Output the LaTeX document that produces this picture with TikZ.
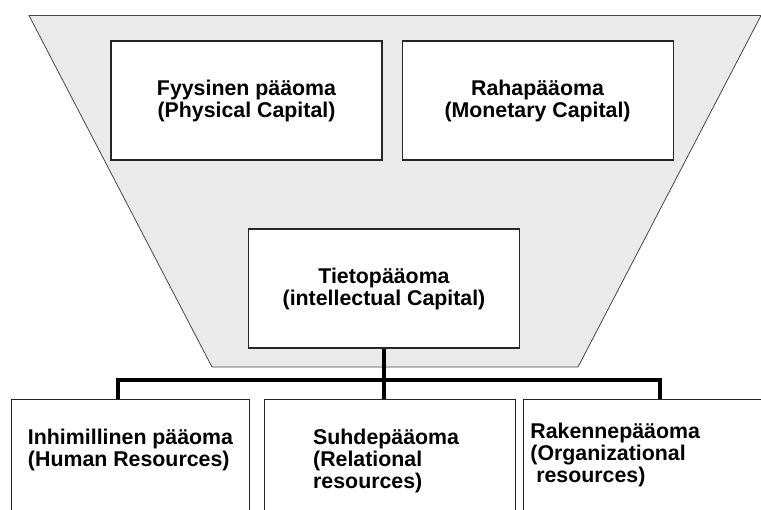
\documentclass[tikz,border=0pt]{standalone}
\usepackage{fontspec}
\setmainfont{Liberation Sans}
\usetikzlibrary{positioning}
\definecolor{funnelgray}{RGB}{234,234,234}
\definecolor{edgegray}{RGB}{72,72,72}
\tikzset{
    capital/.style={rectangle, draw=black!85, fill=white, line width=0.8pt, minimum width=203.25pt, minimum height=89.25pt, inner sep=0pt, align=center},
    resource/.style={rectangle, draw=black!85, fill=white, line width=0.8pt, minimum height=98.25pt, inner sep=0pt, anchor=north west},
    caption/.style={inner sep=0pt, align=left},
    link/.style={line width=3pt},
}

\begin{document}
\begin{tikzpicture}[x=0.75pt, y=-0.75pt, font=\fontsize{16}{16.5}\selectfont\bfseries]
    \useasboundingbox (0,0) rectangle (761,510);
    \clip (0,0) rectangle (761,510);
    \fill[white] (0,0) rectangle (761,510);
    \coordinate (ftl) at (29,15.5);
    \coordinate (ftr) at (761,15.5);
    \coordinate (fbr) at (578,367);
    \coordinate (fbl) at (212,367);
    \filldraw[fill=funnelgray, draw=edgegray, line width=0.6pt] (ftl) -- (ftr) -- (fbr) -- (fbl) -- cycle;
    \node[capital] (phys) at (246.5,100.5) {Fyysinen pääoma\\(Physical Capital)};
    \node[capital, right=14.25pt of phys] (mone) {Rahapääoma\\(Monetary Capital)};
    \node[capital] (tiet) at (384,288.5) {Tietopääoma\\(intellectual Capital)};
    \node[resource, minimum width=178.5pt] (hum) at (11,399) {};
    \node[resource, minimum width=188.25pt, right=10.5pt of hum] (rel) {};
    \node[resource, minimum width=195pt, right=5.25pt of rel] (org) {};
    \node[caption, below=22pt of hum.north] (humtxt) {Inhimillinen pääoma\\(Human Resources)};
    \node[caption, below=22pt of rel.north, xshift=-3pt] (reltxt) {Suhdepääoma\\(Relational\\resources)};
    \node[caption, below right=17.7pt and 5.25pt of org.north west] (orgtxt) {Rakennepääoma\\(Organizational\\~resources)};
    \coordinate[below=23.25pt of tiet.south] (bus);
    \draw[link] (tiet.south) -- (tiet.south |- rel.north);
    \draw[link] ([xshift=-9.75pt]hum.north) |- (bus) -| ([xshift=102.75pt]org.north west);
\end{tikzpicture}
\end{document}
